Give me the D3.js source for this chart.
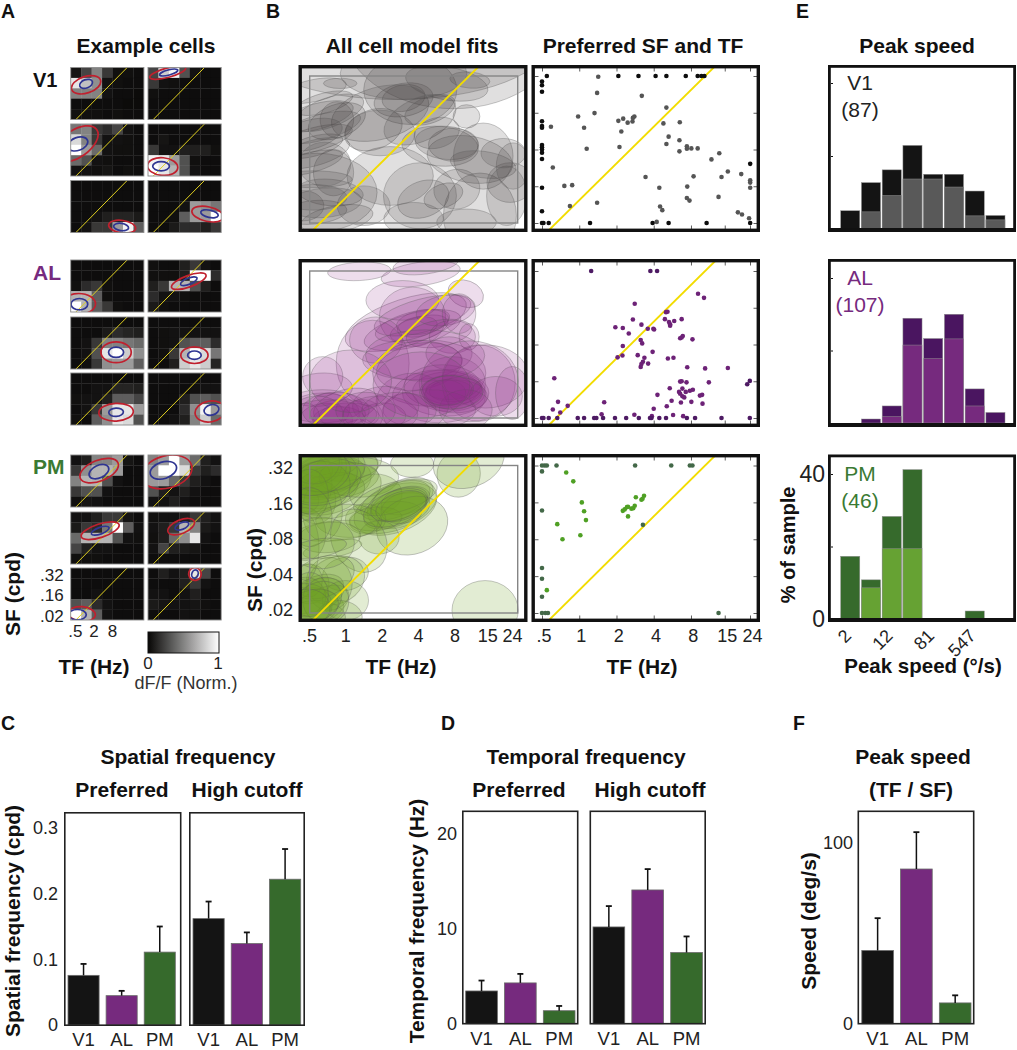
<!DOCTYPE html>
<html>
<head>
<meta charset="UTF-8">
<title>Visual area tuning</title>
<script src="https://d3js.org/d3.v7.min.js"></script>
<style>
  html, body { margin: 0; padding: 0; background: #fff; }
</style>
</head>
<body>
<div id="id_chart"></div>
<script>

// ---- data ----
var regions = ["V1", "AL", "PM"];

// panel A: dF/F per stimulus cell, rows run from high SF to low SF
var heatCells = [
  [[.06,.25,.5,.2,.04,.04,.03],[.9,.75,.55,.05,.04,.03,.03],[.5,.5,.5,.05,.03,.03,.02],[.03,.03,.03,.03,.03,.02,.02],[.04,.04,.04,.03,.04,.03,.03]],
  [[.25,.8,.95,.3,.05,.03,.03],[.2,.05,.04,.03,.03,.03,.03],[.04,.03,.03,.03,.03,.03,.03],[.03,.03,.03,.03,.03,.03,.03],[.03,.03,.03,.03,.03,.03,.03]],
  [[.45,.5,.2,.15,.25,.05,.03],[.85,.5,.2,.05,.05,.04,.03],[1,.6,.4,.05,.04,.04,.03],[.4,.3,.05,.04,.03,.03,.03],[.05,.05,.04,.06,.03,.04,.03]],
  [[.03,.03,.03,.03,.03,.03,.03],[.03,.06,.03,.03,.03,.03,.03],[.2,.05,.05,.1,.1,.1,.04],[.95,.9,.6,.3,.04,.03,.03],[1,.9,.7,.3,.05,.03,.03]],
  [[.03,.03,.03,.03,.03,.03,.03],[.03,.03,.03,.03,.03,.03,.03],[.03,.03,.03,.03,.03,.03,.03],[.03,.03,.05,.1,.12,.12,.08],[.03,.05,.2,.2,.6,.95,.35]],
  [[.03,.03,.03,.03,.03,.03,.03],[.03,.03,.03,.03,.03,.03,.03],[.03,.03,.03,.05,.6,.55,.45],[.03,.03,.04,.35,.6,.6,1],[.03,.03,.08,.15,.15,.1,.2]],
  [[.03,.03,.03,.03,.03,.03,.03],[.03,.03,.03,.03,.03,.03,.03],[.04,.15,.2,.04,.03,.03,.03],[.7,.7,.35,.04,.03,.03,.03],[1,.7,.35,.2,.04,.03,.03]],
  [[.04,.03,.03,.1,.2,.05,.03],[.04,.04,.04,.1,1,1,.15],[.1,.2,.7,.7,.3,.1,.03],[.15,.05,.05,.04,.03,.03,.03],[.08,.04,.03,.03,.03,.03,.03]],
  [[.03,.03,.03,.03,.03,.03,.03],[.03,.03,.03,.08,.15,.12,.1],[.03,.05,.2,.5,.5,.45,.4],[.03,.05,.3,.9,1,.8,.55],[.03,.04,.2,.55,.6,.6,.35]],
  [[.03,.03,.03,.03,.03,.03,.03],[.03,.04,.05,.05,.05,.05,.05],[.03,.04,.05,.3,.35,.35,.15],[.03,.04,.2,.7,1,.85,.45],[.03,.03,.1,.8,.9,.8,.12]],
  [[.03,.03,.03,.03,.03,.03,.03],[.03,.03,.05,.05,.12,.12,.1],[.04,.05,.05,.1,.35,.35,.25],[.03,.05,.2,.6,.9,.9,.6],[.04,.03,.35,.55,.9,.85,.3]],
  [[.03,.03,.03,.03,.03,.03,.03],[.03,.03,.03,.03,.04,.05,.05],[.03,.03,.03,.1,.3,.35,.3],[.03,.03,.03,.15,.55,.95,.6],[.03,.03,.05,.1,.5,.8,.4]],
  [[.05,.1,.5,.5,.6,.06,.03],[.2,.55,.7,.7,.6,.03,.03],[.5,.7,.7,.3,.05,.03,.03],[.2,.3,.3,.05,.03,.03,.03],[.04,.06,.05,.03,.03,.03,.03]],
  [[.5,.6,1,.6,.4,.1,.05],[.6,1,1,.85,.2,.1,.15],[.6,.6,.4,.2,.1,.05,.03],[.3,.1,.05,.1,.05,.03,.03],[.05,.05,.1,.05,.03,.03,.03]],
  [[.05,.05,.1,.2,.2,.06,.03],[.08,.2,.15,.45,1,.35,.05],[.4,.7,.7,.7,.3,.05,.04],[.25,.1,.05,.05,.03,.03,.03],[.04,.04,.04,.03,.03,.03,.03]],
  [[.04,.05,.05,.1,.2,.1,.05],[.05,.1,.2,.7,.5,.08,.05],[.04,.1,.4,.55,.9,.05,.03],[.05,.25,.1,.08,.06,.03,.03],[.03,.03,.03,.03,.03,.03,.03]],
  [[.03,.03,.03,.03,.03,.03,.03],[.03,.03,.03,.03,.03,.03,.03],[.03,.03,.05,.03,.03,.03,.03],[.3,.35,.15,.05,.03,.03,.03],[1,.7,.35,.05,.03,.03,.03]],
  [[.03,.1,.05,.1,.9,.25,.03],[.03,.03,.03,.1,.2,.05,.03],[.05,.05,.03,.05,.1,.03,.03],[.08,.06,.05,.05,.06,.04,.03],[.03,.03,.03,.05,.04,.03,.03]]
];
// col, row, col radius, row radius, tilt
var heatOuterFits = [
  [1.47,1.66,1.45,.8,-18],[1.88,.5,1.78,.45,-15],[.52,1.92,2.4,1.3,-35],[1.4,4.09,1.45,.85,5],[4.92,4.44,1.3,.6,8],[5.72,3.23,1.55,.7,12],
  [.77,4.22,1.6,1,0],[3.9,2.04,1.75,.55,-20],[4.34,3.39,1.45,1,0],[4.44,3.67,1.3,.8,0],[4.34,3.77,1.65,.85,-3],[5.94,3.7,1.45,1,-10],
  [2.72,1.5,1.95,1,-22],[1.8,1.63,2.45,1.55,-15],[2.82,1.8,1.9,.65,-18],[3.17,1.41,1.35,.65,-22],[1.06,4.42,1.3,.7,5],[4.49,.58,.6,.62,-10]
];
var heatInnerFits = [
  [1.47,1.57,.64,.4,-20],[1.98,.48,.9,.25,-15],[.67,1.92,1,.62,-20],[1.25,4.06,.8,.45,0],[4.82,4.47,.72,.35,8],[5.88,3.2,.85,.35,12],
  [.83,4.25,.8,.55,0],[3.9,2.04,.85,.3,-22],[4.34,3.39,.72,.5,0],[4.44,3.67,.65,.4,0],[4.34,3.77,.7,.4,-3],[6.07,3.55,.72,.5,-15],
  [2.7,1.6,1,.6,-25],[1.47,1.47,1.3,.8,-18],[2.82,1.8,.9,.32,-20],[3.24,1.35,.7,.32,-22],[.64,4.49,.85,.5,0],[4.49,.58,.3,.4,20]
];
var heatDiagCols = [.5, 5.4];
var heatDiagRows = [5, 0];

// panel B: tick labels, axis positions are octaves above the lowest tick
var tfTicks = [.5, 1, 2, 4, 8, 15, 24];
var tfLabels = [".5", "1", "2", "4", "8", "15", "24"];
var sfTicks = [.02, .04, .08, .16, .32];
var sfLabels = [".02", ".04", ".08", ".16", ".32"];

// model fits: TF oct, SF oct, TF radius, SF radius, tilt
var v1Fits = [
  [2.34,4.97,4.11,1.61,0],[3.86,5.43,3.04,2.32,0],[.2,.83,1.61,1.07,0],[2.16,1.28,1.16,.8,0],[4.57,.2,.98,1.16,0],
  [2.7,3.62,1.25,.94,0],[2.52,3.4,.58,.36,-10],[2.52,3.35,.8,.45,-10],[2.52,4.07,1.7,.71,0],[3.68,3.8,1.12,.45,10],
  [4.3,3.89,.54,.22,5],[.73,2.81,.45,.49,0],[.73,2.77,.8,.45,-20],[1.89,2.99,1.34,.71,-15],[1.71,2.54,.8,.54,-20],
  [1.89,2.45,.94,.62,0],[2.96,2.81,1.03,.58,-25],[3.23,3.08,.71,.36,-20],[3.86,2.13,.67,.45,0],[3.5,2.09,1.03,.54,5],
  [3.68,2.18,.85,.45,5],[4.66,1.82,.8,.9,0],[4.3,1.73,1.16,.63,10],[4.66,1.59,.89,.36,8],[5.38,1.1,.62,.54,0],
  [5.29,.74,.54,.81,0],[2.96,.74,.98,.9,0],[3.05,.65,.71,.49,-20],[3.59,.74,.54,.32,-20],[3.95,.92,.62,.54,-10],
  [.64,1.37,.54,.63,0],[.11,2.27,1.07,.32,-15],[.11,2.09,.8,.27,-15],[.38,3.26,.8,.27,-15],[.02,1.64,.89,.27,-15],
  [.11,1.19,1.03,.23,0],[.55,.83,.89,.36,5],[.11,.29,.89,.32,-5],[-.16,.47,.54,.41,0],[.73,.11,.98,.36,-10],
  [2.79,.11,.8,.45,0],[4.21,.02,.8,.36,0],[1.45,.47,.71,.54,0],[.82,3.8,.45,.14,0],[3.41,2.45,.62,.41,-15],
  [4.21,2.9,.36,.32,0],[5.46,1.55,.45,.63,0],
  [.3,2.6,1.1,.35,-15],[.2,2.9,1,.35,-15],[0,2.4,.9,.4,-15],[.1,1.9,1,.35,-15],[.4,1.6,.7,.6,0],
  [.1,3.6,.9,.3,-12],[.5,3,1,.4,-20],[.4,.55,1,.4,-5],[.1,.7,.9,.35,0],[5.2,1.9,.6,.4,0]
];
var alFits = [
  [1.33,3.99,.85,.25,-3],[2.98,3.92,1.07,.32,-8],[3.12,4.19,.89,.27,-8],[4.19,3.38,.49,.36,20],[2.58,2.61,1.7,.63,-18],
  [2.76,2.39,1.34,.45,-15],[2.94,2.43,.8,.32,-15],[2.89,2.48,.54,.27,-10],[2.76,2.52,1.03,.36,-15],[3.03,2.61,.71,.32,-10],
  [2.76,2.75,.89,.81,0],[2.49,3.2,.98,.54,0],[3.03,2.79,1.34,.45,-15],[3.65,2.93,.8,.41,-10],[3.47,2.3,.89,.36,-10],
  [3.83,2.21,.62,.45,0],[4.01,2.84,.45,.54,0],[4.28,2.21,.27,.36,0],[1.69,1.49,.98,1.17,0],[1.78,2.12,.71,.63,0],
  [2.76,1.58,1.34,.54,0],[3.21,1.22,1.52,.9,0],[2.94,1.4,1.16,.63,-10],[3.74,1.76,.62,.45,0],[3.74,.72,.98,.54,0],
  [3.83,.77,.8,.41,0],[3.65,.68,1.16,.63,0],[3.92,.77,.71,.32,-5],[3.47,.59,1.25,.72,0],[3.83,.95,.89,.72,0],
  [3.56,.86,1.03,.59,0],[3.92,.59,.85,.45,0],[3.74,.77,.62,.27,0],[3.65,.68,.54,.36,0],[4.54,.95,.98,1.04,0],
  [4.72,1.13,1.16,.86,0],[5,.59,.71,.54,0],[5.44,.68,.45,.72,0],[3.21,.23,1.25,.54,0],[2.58,.14,.62,.54,0],
  [4.19,.23,.71,.54,0],[2.76,.41,.98,.81,0],[.35,.14,.98,.54,0],[.53,.23,.54,.45,0],[.44,-.05,.71,.45,0],
  [.79,-.05,.71,.36,0],[.26,.77,.89,.45,-5],[.35,1.13,.54,.54,0],[.35,.32,1.07,.45,0],[1.42,.05,.54,.45,0],
  [.97,.32,.89,.45,-15],[2.04,.32,.89,.54,0],[-.1,.05,.36,.36,0],[1.06,.05,.8,.36,0],[1.96,.05,.62,.36,0],
  [.5,.1,1,.4,0],[.9,.1,.9,.4,0],[.2,.1,.7,.5,0],[.7,.2,.9,.5,0],[1.9,.1,1,.5,0],[2.4,.2,1,.5,0],[1.5,.2,.8,.5,0],
  [1.1,1,1.1,.85,0],[3.1,1.7,1.6,.7,0],[4.3,1,1.3,1.1,0],[3,.9,1.3,.9,0],[3.7,.75,.7,.4,-5],[3.8,.7,.85,.45,0]
];
var pmFits = [
  [.61,3.77,1.25,.63,-15],[.52,3.5,1.16,.63,-15],[.34,3.32,.98,.54,-15],[.7,3.86,1.16,.54,-12],[.43,3.68,1.07,.5,-15],
  [1.05,4.04,.89,.45,-10],[.88,3.59,.98,.45,-10],[.16,3.05,.54,.63,0],[.52,3.23,.98,.54,-15],[.07,3.86,.54,.45,0],
  [.43,4.13,.89,.45,0],[-.2,3.05,.45,.36,0],[-.02,3.5,.62,.81,0],[.25,4.04,.62,.54,0],[.7,3.32,1.25,.72,-15],
  [2.75,4.04,.58,.36,0],[4,3.77,.58,.63,10],[4.27,4.13,.98,.72,-20],[1.77,3.23,.71,.54,0],[1.32,3.68,1.07,.54,0],
  [2.3,2.82,1.16,.63,-20],[2.48,2.95,.98,.59,-22],[2.3,2.77,.89,.41,-20],[2.3,3.05,.98,.45,-20],[2.57,3.05,.67,.36,-15],
  [2.04,2.59,.98,.41,-10],[1.77,2.55,.71,.32,-5],[2.48,3.09,.89,.5,-25],[2.57,2.86,.67,.41,-15],[1.5,2.55,.54,.41,0],
  [2.3,3.14,1.16,.41,-15],[2.75,2.37,.98,.77,-20],[1.86,2.05,.54,.45,0],[1.05,2.5,.89,.45,0],[.7,2.23,1.07,.27,-5],
  [.61,1.74,.8,.23,-10],[.52,2.05,.85,.41,-5],[.34,2.77,.54,.81,0],[1.32,1.96,.71,.9,-30],[.96,1.06,.62,.45,-10],
  [.7,.88,.8,.63,-25],[-.02,.79,.54,.54,0],[.07,.43,.89,.45,-20],[.16,.52,.8,.45,-25],[-.06,.16,.98,.54,0],
  [.25,.16,.89,.45,-30],[.96,.34,.62,.54,0],[.52,.79,.62,.72,0],[.79,-.11,.62,.45,0],[-.02,.88,.36,.45,0],
  [.34,.97,.89,.54,-20],[.16,-.11,.8,.45,0],[-.11,.43,.54,.54,0],[.43,.34,.62,.63,-30],[4.71,.07,.89,.81,0],
  [-.11,1.78,.36,.9,0],[-.11,2.14,.54,.72,0],
  [.1,3.9,.9,.7,-15],[.3,3.7,1,.7,-15],[.2,3.4,.9,.7,-15],[.1,4.1,.7,.6,0],[.5,3.9,1,.6,-10],[0,3.2,.5,.7,0],[.4,3.55,1,.6,-15],[.2,3.8,.9,.6,-12],
  [-.1,.2,.7,.6,0],[0,.1,.8,.5,-20],[.2,.3,.7,.5,-30],[0,.5,.5,.6,0],[-.05,.15,.6,.5,0],
  [2.4,2.95,.8,.4,-20],[2.3,2.85,.9,.45,-20],[2.45,2.9,.7,.38,-18],[.3,1.9,.9,.7,0],[0,2.6,.6,.8,0],[.2,1.75,.8,.25,-10]
];

// preferred TF / SF per cell in octaves; cells at the stimulus limits are kept apart
var v1LimitDots = [
  [.13,4],[0,3.85],[0,3.75],[0,3.57],[0,2.77],[0,2.64],[0,2.59],[0,2.12],[0,2.06],[0,2],[0,1.91],[0,1.74],[0,.96],[0,.32],[0,0],[.04,0],[.18,0],[1.29,0],
  [2.05,4],[2.59,4],[3.05,4],[3.34,4],[3.86,4],[4.18,4],[4.28,4],[4.36,4],[2.97,0],[3.4,0],[4.42,0],[5.59,0],[5.59,1.61]
];
var v1Dots = [
  [1.51,3.98],[1.48,3.54],[2.68,3.46],[1.41,2.99],[.97,2.9],[2.48,2.9],[2.44,2.86],[2.18,2.84],[2.05,2.78],[2.3,2.73],[2.43,2.76],[1.13,2.59],[.24,2.62],[2.13,2.49],
  [3.34,3.14],[3.26,2.71],[3.7,2.74],[3.4,2.35],[3.69,2.25],[3.34,2.15],[2.08,2.07],[1.2,2.02],[3.69,1.95],[3.89,2.09],[3.89,2.02],[4.01,2.03],[4.18,2.03],[4.76,1.9],
  [4.55,1.73],[.29,1.51],[4.99,1.4],[5.35,1.33],[4.82,1.25],[4.07,1.27],[2.78,1.25],[5.59,1.16],[5.59,1.1],[5.59,.96],[.6,1.01],[.81,1.03],[3.15,.96],[3.9,.99],
  [3.89,.68],[3.96,.61],[4.74,.71],[1.48,.55],[.75,.46],[3.17,.45],[3.23,.35],[5.26,.29],[5.37,.23],[5.56,.13],[3.08,.03]
];
var alLimitDots = [
  [1.32,4],[2.91,4],[3.09,4],[0,0],[.04,0],[.18,0],[.41,0],[.96,0],[1.13,0],[1.4,0],[1.46,0],[1.64,0],[1.96,0],[2.26,0],[2.6,0],[2.9,0],[2.94,0],[3.15,0],[3.33,0],[3.89,0],[4.11,0],[4.82,0],[5.58,0],[5.58,1.01],[5.51,.92]
];
var alDots = [
  [.33,1.08],[.43,.44],[.29,.23],[.49,.15],[.69,.33],[1.67,.43],[1.6,.1],[2.48,.09],[3,.25],[2.95,.05],[3.35,.32],[3.52,.08],[3.79,.05],[3.48,.47],[3.73,.42],[4.01,.44],[4.31,.39],[3.1,.63],[3.43,.81],
  [4.24,.61],[4.3,.63],[4.48,.97],[3.71,.99],[3.75,1],[3.88,.97],[3.77,.8],[3.68,.71],[3.71,.66],[3.77,.59],[3.82,.56],[3.86,.71],[3.97,.74],[4.05,.77],[3.9,1.38],[4.38,1.35],[4.99,1.36],
  [2.03,1.65],[2.16,1.7],[2.17,1.96],[2.57,1.71],[2.75,1.64],[2.71,1.53],[2.67,1.47],[2.65,1.39],[2.85,1.48],[2.97,1.8],[3.38,1.62],[3.53,1.64],[2.65,2.12],[2.69,2.03],[1.97,2.47],[2.17,2.45],
  [2.33,2.3],[2.44,2.68],[2.67,2.54],[2.84,2.43],[2.99,2.43],[3.01,2.41],[2.49,3.11],[3.3,2.69],[3.33,2.88],[3.37,2.89],[3.41,2.61],[3.44,2.55],[3.44,2.51],[3.55,2.64],[3.75,2.69],[3.71,2.17],[3.75,2.19],[3.78,2.23],[4.04,2.14],[4.19,3.38],[4.35,3.27]
];
var pmLimitDots = [
  [0,4],[.07,4],[.13,4],[.39,4],[2.5,4],[3.47,4],[3.97,4],[4.04,4],[0,3.84],[0,2.78],[0,1.22],[0,.93],[0,.44],[0,0],[.09,0],[.16,0],[4.74,0],[2.71,2.39]
];
var pmDots = [
  [.65,3.81],[.84,3.57],[1.07,3],[1.13,2.76],[1.18,2.52],[.41,2.41],[.55,2],[1.03,2.11],[.13,.62],[2.17,2.77],[2.22,2.81],[2.28,2.87],[2.31,2.88],[2.31,2.62],[2.4,2.83],[2.45,2.84],[2.49,2.91],[2.52,3.14],[2.67,3.07],[2.74,3.18],[2.7,3.1]
];

// panel E: % of sample per speed bin
var speedBins = ["2", "5", "12", "31", "81", "211", "547", "1400"];
var speedTickLabels = ["2", "12", "81", "547"];
var speedTicks = [0, 20, 40];
var v1Total = [5, 12.7, 16.2, 22.9, 15, 15, 10.4, 3.7];
var v1Tuned = [0, 4.7, 9.2, 13.7, 13.7, 11.5, 3.6, 2.5];
var alTotal = [0, 1.1, 4.7, 28.9, 23.3, 30, 9.4, 2.9];
var alTuned = [0, 0, 1.8, 21.5, 17.8, 23.2, 4.7, 0];
var pmTotal = [17.3, 10.8, 28.3, 41.2, 0, 0, 2.2, 0];
var pmTuned = [0, 8.6, 19.4, 19.4, 0, 0, 0, 0];

// panels C, D, F: mean and top of error bar
var sfPrefMean = [.0756, .0447, .111];
var sfPrefTop = [.093, .052, .15];
var sfCutMean = [.162, .124, .222];
var sfCutTop = [.188, .141, .268];
var tfPrefMean = [3.45, 4.3, 1.37];
var tfPrefTop = [4.55, 5.25, 1.87];
var tfCutMean = [10.2, 14.1, 7.5];
var tfCutTop = [12.4, 16.3, 9.2];
var speedMean = [40.5, 85.6, 11.5];
var speedTop = [58.4, 106, 15.7];

// ---- drawing ----
var FONT = "'Liberation Sans', Arial, sans-serif";
var regionColor = { V1: "#141414", AL: "#762a7e", PM: "#366a2c" };

var svg = d3.select("#id_chart")
  .append("svg")
    .attr("width", 1017)
    .attr("height", 1050)
    .style("display", "block")
    .attr("font-family", FONT);

var defs = svg.append("defs");
var clipCount = 0;
function addClip(x, y, w, h) {
  var id = "clip" + (clipCount++);
  defs.append("clipPath").attr("id", id)
    .append("rect").attr("x", x).attr("y", y).attr("width", w).attr("height", h);
  return "url(#" + id + ")";
}

function label(x, y, str, size, weight, color, anchor, rotate) {
  var t = svg.append("text")
    .attr("x", x).attr("y", y)
    .attr("font-size", size)
    .attr("font-weight", weight || "normal")
    .attr("fill", color || "#111")
    .attr("text-anchor", anchor || "middle")
    .text(str);
  if (rotate) t.attr("transform", "rotate(" + rotate + "," + x + "," + y + ")");
  return t;
}

// panel letters and top titles
[["A", 1, 18], ["B", 266, 18], ["E", 796, 18], ["C", 1, 730], ["D", 441, 730], ["F", 793, 730]].forEach(function(d) {
  label(d[1], d[2], d[0], 19.5, "bold", "#111", "start");
});
label(146, 53, "Example cells", 21, "bold");
label(412, 53, "All cell model fits", 21, "bold");
label(643, 53, "Preferred SF and TF", 21, "bold");
label(917, 53, "Peak speed", 21, "bold");

// ---- panel A ----
var heatColor = d3.scaleLinear().domain([0, 1]).range(["#070605", "#ffffff"]);
var heatLefts = [70.7, 148];
var heatTops = [67.5, 124, 180.5, 260, 317, 373, 455, 512, 568];
var heatW = 73.2, heatH = 52;

heatCells.forEach(function(cells, n) {
  var left = heatLefts[n % 2];
  var top = heatTops[Math.floor(n / 2)];
  var x = d3.scaleLinear().domain([0, 7]).range([left, left + heatW]);
  var y = d3.scaleLinear().domain([0, 5]).range([top, top + heatH]);
  var g = svg.append("g");
  var inner = g.append("g").attr("clip-path", addClip(left, top, heatW, heatH));

  cells.forEach(function(row, r) {
    inner.selectAll(null).data(row).enter().append("rect")
      .attr("x", function(d, c) { return x(c); })
      .attr("y", y(r))
      .attr("width", x(1) - x(0) + .3)
      .attr("height", y(1) - y(0) + .3)
      .attr("fill", function(d) { return heatColor(d); });
  });

  inner.append("line")
    .attr("x1", x(heatDiagCols[0])).attr("y1", y(heatDiagRows[0]))
    .attr("x2", x(heatDiagCols[1])).attr("y2", y(heatDiagRows[1]))
    .attr("stroke", "#e0d020").attr("stroke-width", 1);

  [[heatOuterFits[n], "#c0202e"], [heatInnerFits[n], "#2f3592"]].forEach(function(f) {
    var e = f[0];
    inner.append("ellipse")
      .attr("cx", 0).attr("cy", 0)
      .attr("rx", x(e[2]) - x(0)).attr("ry", y(e[3]) - y(0))
      .attr("transform", "translate(" + x(e[0]) + "," + y(e[1]) + ")rotate(" + e[4] + ")")
      .attr("fill", "none").attr("stroke", f[1]).attr("stroke-width", 1.7);
  });

  g.append("rect")
    .attr("x", left).attr("y", top).attr("width", heatW).attr("height", heatH)
    .attr("fill", "none").attr("stroke", "#8a8a8a").attr("stroke-width", .9);
});

label(33, 87, "V1", 20, "bold", "#111", "start");
label(33, 280, "AL", 21, "bold", "#762a7e", "start");
label(33, 474, "PM", 21, "bold", "#3a7a33", "start");

var exX = d3.scaleBand().domain(d3.range(7)).range([70.7, 135.7]);
var exY = d3.scaleBand().domain(d3.range(5)).range([570, 622]);
svg.append("g")
  .attr("transform", "translate(0,621)")
  .call(d3.axisBottom(exX).tickValues([0, 2, 4]).tickSize(0).tickPadding(4)
    .tickFormat(function(d, i) { return [".5", "2", "8"][i]; }))
  .call(function(a) { a.select(".domain").remove(); })
  .selectAll("text").attr("font-size", 17).attr("font-family", FONT).attr("fill", "#222");
svg.append("g")
  .attr("transform", "translate(70.7,0)")
  .call(d3.axisLeft(exY).tickValues([0, 2, 4]).tickSize(0).tickPadding(7)
    .tickFormat(function(d, i) { return [".32", ".16", ".02"][i]; }))
  .call(function(a) { a.select(".domain").remove(); })
  .selectAll("text").attr("font-size", 17).attr("font-family", FONT).attr("fill", "#222");

label(20, 594, "SF (cpd)", 21, "bold", "#111", "middle", -90);
label(94, 674, "TF (Hz)", 21, "bold");

var grad = defs.append("linearGradient").attr("id", "barGrad");
d3.range(0, 1.01, .1).forEach(function(v) {
  grad.append("stop").attr("offset", v).attr("stop-color", heatColor(v));
});
svg.append("rect")
  .attr("x", 148).attr("y", 632).attr("width", 71).attr("height", 21)
  .attr("fill", "url(#barGrad)").attr("stroke", "#111").attr("stroke-width", 1);
label(148, 669, "0", 17, "normal", "#222");
label(218, 669, "1", 17, "normal", "#222");
label(186, 689, "dF/F (Norm.)", 18, "normal", "#333");

// ---- panel B ----
var octMax = Math.log2(24 / .5);
var tfOct = tfTicks.map(function(d) { return Math.log2(d / tfTicks[0]); });
var sfOct = sfTicks.map(function(d) { return Math.log2(d / sfTicks[0]); });
var bRows = [
  { top: 65, bottom: 232, yTop: 76, yBottom: 223, fits: v1Fits, fill: "#3c3a3a", fillOp: .16, lim: v1LimitDots, dots: v1Dots, limC: "#0d0d0d", dotC: "#555555" },
  { top: 259, bottom: 427, yTop: 271, yBottom: 418, fits: alFits, fill: "#8c2a88", fillOp: .16, lim: alLimitDots, dots: alDots, limC: "#4d1a63", dotC: "#6d2277" },
  { top: 454, bottom: 622, yTop: 465.5, yBottom: 613, fits: pmFits, fill: "#6c9f24", fillOp: .2, lim: pmLimitDots, dots: pmDots, limC: "#436848", dotC: "#4fa024" }
];
var DIAG_FIT = .28, DIAG_DOT = .38;
var diagTf = [-.5, 5];

function frame(x1, y1, x2, y2, w, color) {
  return svg.append("rect")
    .attr("x", x1 + w / 2).attr("y", y1 + w / 2)
    .attr("width", x2 - x1 - w).attr("height", y2 - y1 - w)
    .attr("fill", "none").attr("stroke", color || "#111").attr("stroke-width", w);
}

bRows.forEach(function(row, i) {
  var y = d3.scaleLinear().domain([0, 4]).range([row.yBottom, row.yTop]);
  var xFit = d3.scaleLinear().domain([0, octMax]).range([309.7, 517.7]);
  var xDot = d3.scaleLinear().domain([0, octMax]).range([542, 750]);

  // model fits
  var gFit = svg.append("g").attr("clip-path", addClip(299, row.top, 228, row.bottom - row.top));
  gFit.selectAll("ellipse").data(row.fits).enter().append("ellipse")
    .attr("rx", function(d) { return xFit(d[2]) - xFit(0); })
    .attr("ry", function(d) { return y(0) - y(d[3]); })
    .attr("transform", function(d) { return "translate(" + xFit(d[0]) + "," + y(d[1]) + ")rotate(" + d[4] + ")"; })
    .attr("fill", row.fill).attr("fill-opacity", row.fillOp)
    .attr("stroke", "#5a5a5a").attr("stroke-opacity", .36).attr("stroke-width", .9);
  gFit.append("rect")
    .attr("x", xFit(0)).attr("y", y(4)).attr("width", xFit(octMax) - xFit(0)).attr("height", y(0) - y(4))
    .attr("fill", "none").attr("stroke", "#858585").attr("stroke-width", 1.4);
  gFit.append("line")
    .attr("x1", xFit(diagTf[0])).attr("y1", y(diagTf[0] - DIAG_FIT))
    .attr("x2", xFit(diagTf[1])).attr("y2", y(diagTf[1] - DIAG_FIT))
    .attr("stroke", "#f2dc00").attr("stroke-width", 1.9);
  frame(298.5, row.top, 527.5, row.bottom, 3.4);

  // preferred SF and TF
  var gDot = svg.append("g").attr("clip-path", addClip(532, row.top, 228, row.bottom - row.top));
  gDot.append("line")
    .attr("x1", xDot(diagTf[0])).attr("y1", y(diagTf[0] - DIAG_DOT))
    .attr("x2", xDot(diagTf[1])).attr("y2", y(diagTf[1] - DIAG_DOT))
    .attr("stroke", "#f2dc00").attr("stroke-width", 1.9);
  gDot.selectAll("circle.dot").data(row.dots).enter().append("circle")
    .attr("class", "dot")
    .attr("cx", function(d) { return xDot(d[0]); }).attr("cy", function(d) { return y(d[1]); })
    .attr("r", 2.3).attr("fill", row.dotC);
  gDot.selectAll("circle.lim").data(row.lim).enter().append("circle")
    .attr("class", "lim")
    .attr("cx", function(d) { return xDot(d[0]); }).attr("cy", function(d) { return y(d[1]); })
    .attr("r", 2.3).attr("fill", row.limC);

  // small inside ticks on all four sides
  function ticks(axis, tx, ty) {
    svg.append("g").attr("transform", "translate(" + tx + "," + ty + ")")
      .call(axis.tickSize(-3.5).tickFormat(""))
      .call(function(a) { a.select(".domain").remove(); })
      .selectAll("line").attr("stroke", "#333").attr("stroke-width", .8);
  }
  ticks(d3.axisBottom(xDot).tickValues(tfOct), 0, row.bottom - 3);
  ticks(d3.axisTop(xDot).tickValues(tfOct), 0, row.top + 3);
  ticks(d3.axisLeft(y).tickValues(sfOct), 535, 0);
  ticks(d3.axisRight(y).tickValues(sfOct), 757, 0);
  frame(531.5, row.top, 760, row.bottom, 3.4);
});

// tick labels under the PM row only
var xFitLab = d3.scaleLinear().domain([0, octMax]).range([309, 512]);
var xDotLab = d3.scaleLinear().domain([0, octMax]).range([543.5, 752]);
[xFitLab, xDotLab].forEach(function(x) {
  svg.append("g").attr("transform", "translate(0,622)")
    .call(d3.axisBottom(x).tickValues(tfOct).tickSize(0).tickPadding(7)
      .tickFormat(function(d, i) { return tfLabels[i]; }))
    .call(function(a) { a.select(".domain").remove(); })
    .selectAll("text").attr("font-size", 18).attr("font-family", FONT).attr("fill", "#222");
});
var yPm = d3.scaleLinear().domain([0, 4]).range([610, 468]);
svg.append("g").attr("transform", "translate(299,0)")
  .call(d3.axisLeft(yPm).tickValues(sfOct).tickSize(0).tickPadding(6)
    .tickFormat(function(d, i) { return sfLabels[i]; }))
  .call(function(a) { a.select(".domain").remove(); })
  .selectAll("text").attr("font-size", 18).attr("font-family", FONT).attr("fill", "#222");
label(262, 570, "SF (cpd)", 21, "bold", "#111", "middle", -90);
label(401, 674, "TF (Hz)", 21, "bold");
label(642, 674, "TF (Hz)", 21, "bold");

// ---- panel E ----
var xBin = d3.scaleBand().domain(speedBins).range([840.7, 1005]).paddingInner(.08);
var hist = [
  { top: 65, bottom: 232, zero: 229, at40: 83, total: v1Total, tuned: v1Tuned, dark: "#141414", light: "#595959", ink: "#222", name: "V1", n: "(87)", yName: 90, yN: 117 },
  { top: 259, bottom: 427, zero: 423, at40: 278, total: alTotal, tuned: alTuned, dark: "#4a1560", light: "#762a7e", ink: "#762a7e", name: "AL", n: "(107)", yName: 285, yN: 312 },
  { top: 454.5, bottom: 622, zero: 619, at40: 474, total: pmTotal, tuned: pmTuned, dark: "#366a2c", light: "#66a233", ink: "#3a7a33", name: "PM", n: "(46)", yName: 481, yN: 508 }
];
hist.forEach(function(h) {
  var y = d3.scaleLinear().domain([0, 40]).range([h.zero, h.at40]);
  var bars = svg.append("g");
  [[h.total, h.dark], [h.tuned, h.light]].forEach(function(s) {
    bars.selectAll(null).data(s[0]).enter().append("rect")
      .attr("x", function(d, i) { return xBin(speedBins[i]); })
      .attr("y", function(d) { return y(d); })
      .attr("width", xBin.bandwidth())
      .attr("height", function(d) { return y(0) - y(d); })
      .attr("fill", s[1])
      .attr("stroke", function(d) { return d > 0 ? "#8e8e8e" : "none"; })
      .attr("stroke-width", .5);
  });
  svg.append("g").attr("transform", "translate(831,0)")
    .call(d3.axisRight(y).tickValues(speedTicks).tickSize(2).tickFormat(""))
    .call(function(a) { a.select(".domain").remove(); })
    .selectAll("line").attr("stroke", "#111").attr("stroke-width", 1);
  frame(828, h.top, 1016, h.bottom, 2.8);
  svg.append("line")
    .attr("x1", 828).attr("x2", 1016).attr("y1", h.bottom - 2).attr("y2", h.bottom - 2)
    .attr("stroke", "#111").attr("stroke-width", 4);
  label(860, h.yName, h.name, 21, "normal", h.ink);
  label(860, h.yN, h.n, 21, "normal", h.ink);
});

var yPmHist = d3.scaleLinear().domain([0, 40]).range([619, 474]);
svg.append("g").attr("transform", "translate(828,0)")
  .call(d3.axisLeft(yPmHist).tickValues([0, 40]).tickSize(0).tickPadding(3))
  .call(function(a) { a.select(".domain").remove(); })
  .selectAll("text").attr("font-size", 23).attr("font-family", FONT).attr("fill", "#222");

svg.append("g").attr("transform", "translate(0,622)")
  .call(d3.axisBottom(xBin).tickValues(["2", "12", "81", "547"]).tickSize(0))
  .call(function(a) { a.select(".domain").remove(); })
  .selectAll("text")
    .attr("font-size", 18).attr("font-family", FONT).attr("fill", "#222")
    .attr("text-anchor", "end")
    .attr("transform", "rotate(-45)")
    .attr("x", -9).attr("y", 3).attr("dy", ".5em");

label(795, 545, "% of sample", 20, "bold", "#111", "middle", -90);
label(923, 673, "Peak speed (\u00b0/s)", 20.5, "bold");

// ---- panels C, D, F ----
function barPanel(p) {
  var x = d3.scaleBand().domain(regions).range(p.barRange).paddingInner(.184);
  var g = svg.append("g");
  g.selectAll("rect").data(p.mean).enter().append("rect")
    .attr("x", function(d, i) { return x(regions[i]); })
    .attr("y", function(d) { return p.y(d); })
    .attr("width", x.bandwidth())
    .attr("height", function(d) { return p.y(0) - p.y(d); })
    .attr("fill", function(d, i) { return regionColor[regions[i]]; })
    .attr("stroke", "#6a6a6a").attr("stroke-width", .8);
  p.top.forEach(function(t, i) {
    var cx = x(regions[i]) + x.bandwidth() / 2;
    g.append("line").attr("x1", cx).attr("x2", cx)
      .attr("y1", p.y(p.mean[i])).attr("y2", p.y(t))
      .attr("stroke", "#111").attr("stroke-width", 1.5);
    g.append("line").attr("x1", cx - 3).attr("x2", cx + 3)
      .attr("y1", p.y(t)).attr("y2", p.y(t))
      .attr("stroke", "#111").attr("stroke-width", 1.8);
  });
  frame(p.frame[0], p.frame[1], p.frame[2], p.frame[3], 1.6, "#222");
  svg.append("g").attr("transform", "translate(0," + p.frame[3] + ")")
    .call(d3.axisBottom(x).tickSize(0).tickPadding(7))
    .call(function(a) { a.select(".domain").remove(); })
    .selectAll("text").attr("font-size", 18.5).attr("font-family", FONT).attr("fill", "#222");
}

function yTicks(xPos, y, values, pad) {
  svg.append("g").attr("transform", "translate(" + xPos + ",0)")
    .call(d3.axisLeft(y).tickValues(values).tickSize(0).tickPadding(pad)
      .tickFormat(function(d) { return d; }))
    .call(function(a) { a.select(".domain").remove(); })
    .selectAll("text").attr("font-size", 18).attr("font-family", FONT).attr("fill", "#222");
}

var yC = d3.scaleLinear().domain([0, .3]).range([1025, 828]);
var yD = d3.scaleLinear().domain([0, 20]).range([1023.7, 834]);
var yF = d3.scaleLinear().domain([0, 100]).range([1023.7, 843]);

barPanel({ y: yC, mean: sfPrefMean, top: sfPrefTop, barRange: [68, 175.3], frame: [64, 812, 181.5, 1026] });
barPanel({ y: yC, mean: sfCutMean, top: sfCutTop, barRange: [193, 300.7], frame: [189, 812, 305, 1026] });
barPanel({ y: yD, mean: tfPrefMean, top: tfPrefTop, barRange: [465.7, 575], frame: [462, 810.5, 578.5, 1024.5] });
barPanel({ y: yD, mean: tfCutMean, top: tfCutTop, barRange: [593, 702.4], frame: [589.5, 810.5, 706, 1024.5] });
barPanel({ y: yF, mean: speedMean, top: speedTop, barRange: [861.8, 971], frame: [857.5, 810.5, 974.5, 1024.5] });

yTicks(64, yC, [0, .1, .2, .3], 6);
yTicks(462.5, yD, [0, 10, 20], 5.5);
yTicks(858, yF, [0, 100], 5);

label(188, 764, "Spatial frequency", 21, "bold");
label(122, 797, "Preferred", 21, "bold");
label(247, 797, "High cutoff", 21, "bold");
label(586, 764, "Temporal frequency", 21, "bold");
label(519, 797, "Preferred", 21, "bold");
label(650, 797, "High cutoff", 21, "bold");
label(913, 764, "Peak speed", 21, "bold");
label(911, 797, "(TF / SF)", 21, "bold");

label(20, 921, "Spatial frequency (cpd)", 21, "bold", "#111", "middle", -90);
label(424, 921, "Temporal frequency (Hz)", 21, "bold", "#111", "middle", -90);
label(816, 921, "Speed (deg/s)", 21, "bold", "#111", "middle", -90);

</script>
</body>
</html>
